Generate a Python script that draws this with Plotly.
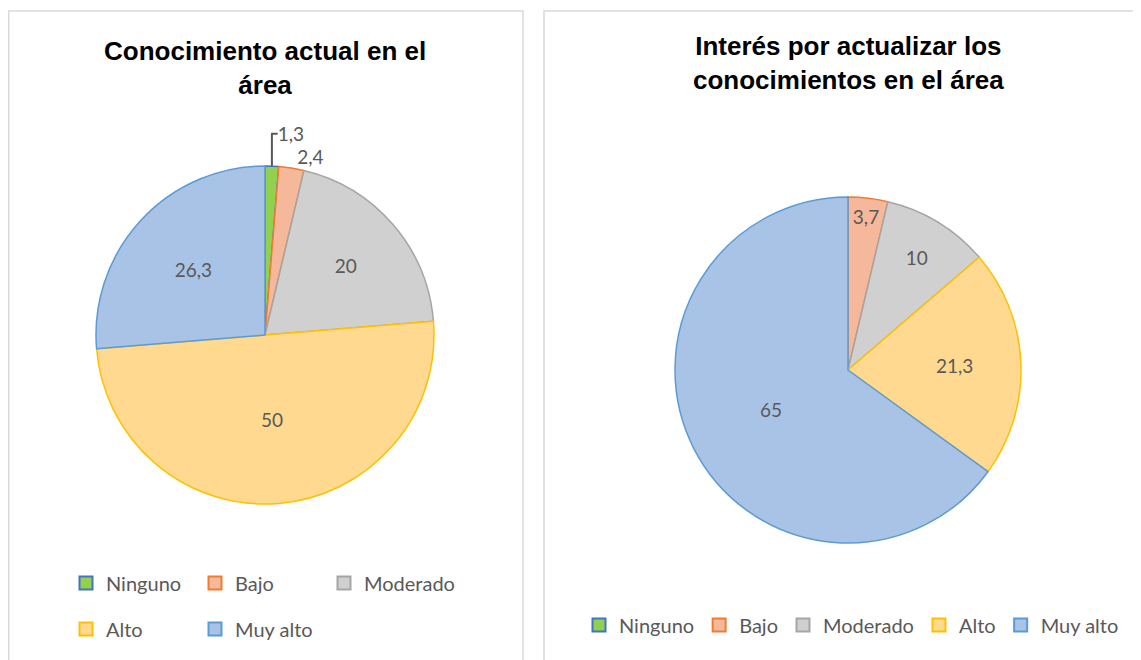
import plotly.graph_objects as go

categories = ["Ninguno", "Bajo", "Moderado", "Alto", "Muy alto"]
conocimiento = [1.3, 2.4, 20, 50, 26.3]
interes = [0, 3.7, 10, 21.3, 65]

titulo1 = "Conocimiento actual en el<br>área"
titulo2 = "Interés por actualizar los<br>conocimientos en el área"

fill_colors = ["#92D050", "#F6B89B", "#D0D0D0", "#FFD98F", "#A8C3E6"]
edge_colors = ["#4472C4", "#ED7D31", "#A5A5A5", "#FFC000", "#5B9BD5"]

# la página deja 8 px de margen en el body: la figura se ajusta a eso
OFF = 8
W, H = 1141 - OFF, 660 - OFF
label_font = dict(family="Lato, Liberation Sans, sans-serif", size=19, color="#595959")
legend_font = dict(family="Lato, Liberation Sans, sans-serif", size=20, color="#595959")
title_font = dict(family="Liberation Sans, Arial, sans-serif", size=26, color="#000000")


def fmt(values):
    # coma decimal como en el original; sin etiqueta para 0
    return [("%g" % v).replace(".", ",") if v else "" for v in values]


def px_x(x):
    return (x - OFF) / W


def px_y(y):
    return 1 - (y - OFF) / H


fig = go.Figure()

fig.add_trace(go.Pie(
    labels=categories, values=conocimiento, text=fmt(conocimiento),
    textinfo="text", sort=False, direction="clockwise", rotation=0,
    textposition=["outside", "outside", "inside", "inside", "inside"],
    insidetextorientation="horizontal",
    textfont=label_font,
    marker=dict(colors=fill_colors, line=dict(color=edge_colors, width=1.5)),
    domain=dict(x=[px_x(96), px_x(434)], y=[px_y(504), px_y(166)]),
    showlegend=False, hoverinfo="label+value",
))

fig.add_trace(go.Pie(
    labels=categories, values=interes, text=fmt(interes),
    textinfo="text", sort=False, direction="clockwise", rotation=0,
    textposition="inside", insidetextorientation="horizontal",
    textfont=label_font,
    marker=dict(colors=fill_colors, line=dict(color=edge_colors, width=1.5)),
    domain=dict(x=[px_x(675), px_x(1021)], y=[px_y(543), px_y(197)]),
    showlegend=False, hoverinfo="label+value",
))

# leyendas: trazas vacías para poder repartir las filas como en el original
legend_rows = [("legend", categories[:2]), ("legend4", categories[2:3]),
               ("legend3", categories[3:]), ("legend2", categories)]
for leg, names in legend_rows:
    for name in names:
        i = categories.index(name)
        fig.add_trace(go.Scatter(
            x=[None], y=[None], mode="markers", name=name, legend=leg,
            marker=dict(symbol="square", size=13, color=fill_colors[i],
                        line=dict(color=edge_colors[i], width=2)),
        ))

fig.update_layout(
    width=W, height=H,
    margin=dict(l=0, r=0, t=0, b=0),
    paper_bgcolor="white", plot_bgcolor="white",
    xaxis=dict(visible=False), yaxis=dict(visible=False),
    legend=dict(orientation="h", x=px_x(66), xanchor="left", y=px_y(583), yanchor="middle",
                entrywidth=84, font=legend_font, bgcolor="rgba(0,0,0,0)"),
    legend4=dict(orientation="h", x=px_x(324), xanchor="left", y=px_y(583), yanchor="middle",
                 font=legend_font, bgcolor="rgba(0,0,0,0)"),
    legend3=dict(orientation="h", x=px_x(66), xanchor="left", y=px_y(629), yanchor="middle",
                 entrywidth=84, font=legend_font, bgcolor="rgba(0,0,0,0)"),
    legend2=dict(orientation="h", x=px_x(579), xanchor="left", y=px_y(625), yanchor="middle",
                 font=legend_font, bgcolor="rgba(0,0,0,0)"),
    annotations=[
        dict(text=f"<b>{titulo1}</b>", x=px_x(265), y=px_y(68), xref="paper", yref="paper",
             xanchor="center", yanchor="middle", showarrow=False, font=title_font),
        dict(text=f"<b>{titulo2}</b>", x=px_x(848), y=px_y(63), xref="paper", yref="paper",
             xanchor="center", yanchor="middle", showarrow=False, font=title_font),
    ],
    shapes=[
        dict(type="rect", xref="paper", yref="paper", x0=0.75 / W, x1=px_x(523), y0=-0.05, y1=px_y(11),
             line=dict(color="#D9D9D9", width=1.5)),
        dict(type="rect", xref="paper", yref="paper", x0=px_x(544), x1=px_x(1140), y0=-0.05, y1=px_y(11),
             line=dict(color="#D9D9D9", width=1.5)),
    ],
)

fig.write_html("out.html")
